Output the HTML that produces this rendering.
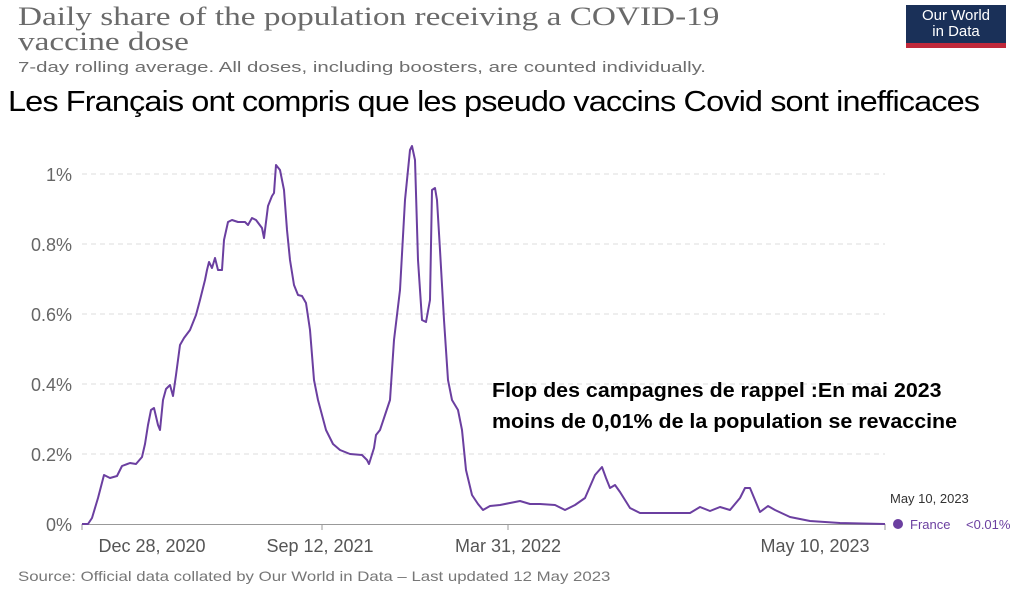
<!DOCTYPE html>
<html><head><meta charset="utf-8"><style>
body{margin:0;width:1024px;height:590px;background:#fff;overflow:hidden;position:relative;font-family:"Liberation Sans",sans-serif}
.t{position:absolute;white-space:nowrap;transform-origin:0 0}
</style></head><body>
<div class="t" style="left:18px;top:4px;font-family:'Liberation Serif',serif;font-size:26px;color:#6a6a6a;line-height:25px;transform:scaleX(1.28)">Daily share of the population receiving a COVID-19<br>vaccine dose</div>
<div class="t" style="left:18px;top:59px;font-size:15px;color:#6e6e6e;transform:scaleX(1.36)">7-day rolling average. All doses, including boosters, are counted individually.</div>
<div style="position:absolute;left:906px;top:5px;width:100px;background:#1a3058;border-bottom:5px solid #c0283a;color:#fff;font-size:15px;line-height:16px;text-align:center;padding-top:3px;box-sizing:border-box;height:43px">Our World<br>in Data</div>
<div class="t" style="left:8px;top:86px;font-size:29px;color:#000;letter-spacing:-0.8px;transform:scaleX(1.12)">Les Français ont compris que les pseudo vaccins Covid sont inefficaces</div>
<svg style="position:absolute;left:0;top:0" width="1024" height="590">
<g stroke="#ddd" stroke-dasharray="5,4" stroke-width="1">
<line x1="82" x2="885" y1="174" y2="174"/><line x1="82" x2="885" y1="244" y2="244"/><line x1="82" x2="885" y1="314" y2="314"/><line x1="82" x2="885" y1="384" y2="384"/><line x1="82" x2="885" y1="454" y2="454"/>
</g>
<line x1="82" x2="885" y1="524.5" y2="524.5" stroke="#999"/>
<g stroke="#999"><line x1="82" x2="82" y1="524" y2="530"/><line x1="322" x2="322" y1="524" y2="530"/><line x1="508" x2="508" y1="524" y2="530"/><line x1="885" x2="885" y1="524" y2="530"/></g>
<g font-size="18" fill="#666" text-anchor="end" font-family="Liberation Sans">
<text x="72" y="181">1%</text><text x="72" y="251">0.8%</text><text x="72" y="321">0.6%</text><text x="72" y="391">0.4%</text><text x="72" y="461">0.2%</text><text x="72" y="531">0%</text></g>
<g font-size="18" fill="#555" text-anchor="middle" font-family="Liberation Sans">
<text x="152" y="552">Dec 28, 2020</text><text x="320" y="552">Sep 12, 2021</text><text x="508" y="552">Mar 31, 2022</text><text x="815" y="552">May 10, 2023</text></g>
<polyline fill="none" stroke="#6b3fa0" stroke-width="2" stroke-linejoin="round" points="82,524 88,524 92,518 98,498 104,475 110,478 117,476 122,466 130,463 136,464 142,457 145,444 148,425 151,410 154,408 158,425 160,430 163,400 166,389 170,385 173,396 176,375 180,345 184,338 190,330 196,315 200,300 205,280 207,270 209,262 212,268 215,258 218,270 222,270 224,240 228,222 232,220 238,222 245,222 248,225 252,218 256,220 262,228 264,238 266,222 268,206 272,196 274,193 276,165 280,170 284,190 287,230 290,260 294,285 298,295 302,296 306,303 310,330 314,380 318,400 326,430 333,444 340,450 350,454 362,455 367,460 369,464 374,448 376,435 380,430 385,415 390,400 394,340 400,290 405,200 410,150 412,146 415,160 418,260 422,320 426,322 430,300 432,190 435,188 437,200 440,250 444,320 448,380 452,400 458,410 462,430 466,470 472,495 478,504 483,510 490,506 500,505 510,503 520,501 530,504 540,504 555,505 565,510 575,505 585,498 595,475 602,467 606,478 610,488 615,485 620,492 630,508 640,513 660,513 690,513 700,507 710,511 720,507 730,510 740,498 745,488 750,488 755,500 760,512 768,506 775,510 790,517 810,521 840,523 885,524"/>
<circle cx="898" cy="524" r="5" fill="#6b3fa0"/>
<text x="890" y="503" font-size="13" fill="#333">May 10, 2023</text>
<text x="910" y="529" font-size="13" fill="#6b3fa0">France</text>
<text x="966" y="529" font-size="13" fill="#6b3fa0">&lt;0.01%</text>
</svg>
<div class="t" style="left:18px;top:568px;font-size:14px;color:#777;transform:scaleX(1.2)">Source: Official data collated by Our World in Data – Last updated 12 May 2023</div>
<div class="t" style="left:492px;top:376px;font-size:20px;font-weight:bold;color:#000;line-height:31px;transform:scaleX(1.07)">Flop des campagnes de rappel :En mai 2023<br>moins de 0,01% de la population se revaccine</div>
</body></html>
